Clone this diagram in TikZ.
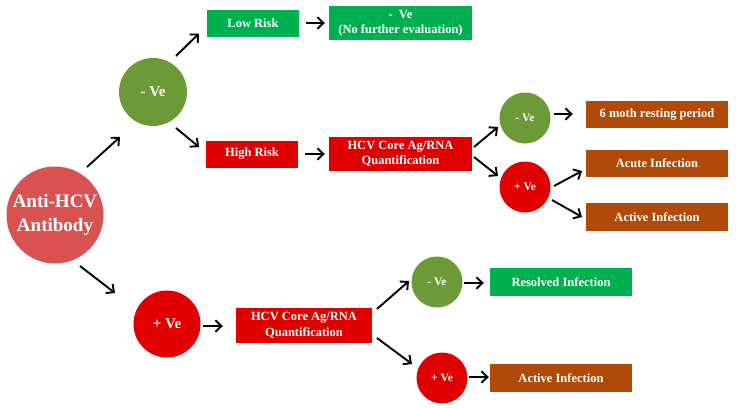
\documentclass[tikz,border=0pt]{standalone}
\usepackage{fontspec}
\setmainfont{Liberation Serif}
\usetikzlibrary{arrows.meta,calc}
\definecolor{antired}{HTML}{D85252}
\definecolor{olive}{HTML}{6B9A36}
\definecolor{boxgreen}{HTML}{00B050}
\definecolor{boxred}{HTML}{E00000}
\definecolor{boxbrown}{HTML}{B04A08}
\tikzset{
  circ/.style={circle,inner sep=0pt,text=white,font=\bfseries,align=center},
  rbox/.style={rectangle,inner sep=0pt,text=white,font=\fontsize{12.5}{15.5}\selectfont\bfseries,align=center},
  arr/.style={line width=1.9pt,-{Straight Barb[length=6pt,width=11.5pt]}}
}
\begin{document}
\begin{tikzpicture}[x=1pt,y=-1pt]
\useasboundingbox (0,0) rectangle (738,407);
% circles
\node[circ,fill=antired,minimum size=97pt,font=\fontsize{19}{24}\selectfont\bfseries] (anti) at (55,215) {Anti-HCV\\Antibody};
\node[circ,fill=olive,minimum size=68pt,font=\fontsize{15}{18}\selectfont\bfseries] (neg1) at (153,92) {- Ve};
\node[circ,fill=boxred,minimum size=67pt,font=\fontsize{15}{18}\selectfont\bfseries] (pos1) at (167,324) {+ Ve};
\node[circ,fill=olive,minimum size=51pt,font=\fontsize{11.5}{14}\selectfont\bfseries] (neg2) at (525,118) {- Ve};
\node[circ,fill=boxred,minimum size=51pt,font=\fontsize{11.5}{14}\selectfont\bfseries] (pos2) at (525,187) {+ Ve};
\node[circ,fill=olive,minimum size=51pt,font=\fontsize{11.5}{14}\selectfont\bfseries] (neg3) at (437,282) {- Ve};
\node[circ,fill=boxred,minimum size=51pt,font=\fontsize{11.5}{14}\selectfont\bfseries] (pos3) at (442,378) {+ Ve};
% boxes
\node[rbox,fill=boxgreen,minimum width=92pt,minimum height=27pt] (low) at (253,23) {Low Risk};
\node[rbox,fill=boxgreen,minimum width=143pt,minimum height=34pt] (nofurther) at (400.5,23) {-\ \ Ve\\(No further evaluation)};
\node[rbox,fill=boxred,minimum width=92pt,minimum height=27pt] (high) at (252,154) {High Risk};
\node[rbox,fill=boxred,minimum width=143pt,minimum height=34pt] (hcv1) at (400.5,154) {HCV Core Ag/RNA\\Quantification};
\node[rbox,fill=boxbrown,minimum width=142pt,minimum height=27pt] (rest) at (657,114.5) {6 moth resting period};
\node[rbox,fill=boxbrown,minimum width=142pt,minimum height=27pt] (acute) at (657,163.5) {Acute Infection};
\node[rbox,fill=boxbrown,minimum width=142pt,minimum height=28pt] (active1) at (657,217) {Active Infection};
\node[rbox,fill=boxred,minimum width=136pt,minimum height=35pt] (hcv2) at (304,325.5) {HCV Core Ag/RNA\\Quantification};
\node[rbox,fill=boxgreen,minimum width=142pt,minimum height=28pt] (resolved) at (561,282) {Resolved Infection};
\node[rbox,fill=boxbrown,minimum width=142pt,minimum height=28pt] (active2) at (561,378) {Active Infection};
% arrows
\draw[arr] ($(anti)+(32,-48)$) -- ($(neg1)+(-33,45)$);
\draw[arr] ($(anti)+(25,51)$) -- ($(pos1)+(-52,-31)$);
\draw[arr] ($(neg1)+(23,-36)$) -- ($(low)+(-54,10.5)$);
\draw[arr] ($(neg1)+(23,36)$) -- ($(high)+(-53,-7)$);
\draw[arr] ($(low.east)+(7,0)$) -- ($(nofurther.west)+(-4,0)$);
\draw[arr] ($(high.east)+(7,0)$) -- ($(hcv1.west)+(-4,0)$);
\draw[arr] ($(hcv1)+(73.5,-7)$) -- ($(neg2)+(-27,9)$);
\draw[arr] ($(hcv1)+(73.5,3)$) -- ($(pos2)+(-27,-11)$);
\draw[arr] ($(neg2)+(29,-4)$) -- ($(rest.west)+(-13,-0.5)$);
\draw[arr] ($(pos2)+(29,-1)$) -- ($(acute)+(-75,7.5)$);
\draw[arr] ($(pos2)+(27,13)$) -- ($(active1)+(-75,0)$);
\draw[arr] ($(pos1)+(36,2)$) -- ($(hcv2.west)+(-13,0.5)$);
\draw[arr] ($(hcv2)+(73,-16.5)$) -- ($(neg3)+(-28,-1)$);
\draw[arr] ($(hcv2)+(73,12.5)$) -- ($(pos3)+(-30,-14)$);
\draw[arr] ($(neg3)+(27,1)$) -- ($(resolved.west)+(-6,1)$);
\draw[arr] ($(pos3)+(27,-1)$) -- ($(active2.west)+(-1,-1)$);
\end{tikzpicture}
\end{document}
